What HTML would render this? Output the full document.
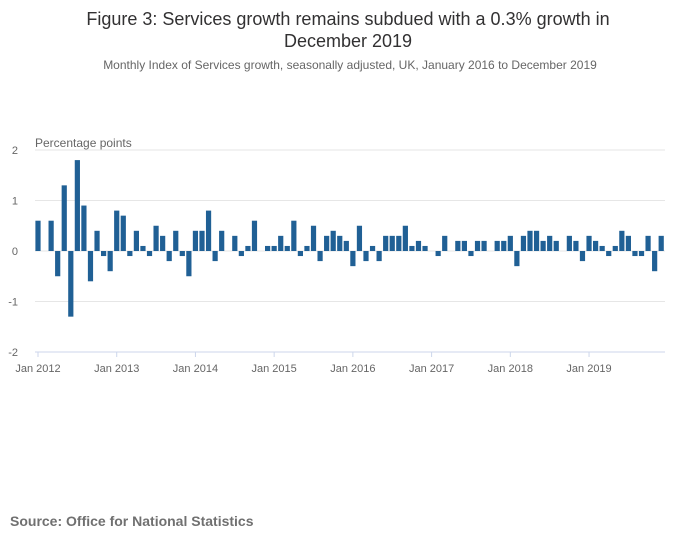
<!DOCTYPE html>
<html><head><meta charset="utf-8"><style>
body{margin:0;background:#fff;width:700px;height:549px;overflow:hidden;font-family:"Liberation Sans",sans-serif}
</style></head><body>
<svg width="700" height="549">
<text x="348" y="25" text-anchor="middle" font-size="18" fill="#323132">Figure 3: Services growth remains subdued with a 0.3% growth in</text>
<text x="348" y="47" text-anchor="middle" font-size="18" fill="#323132">December 2019</text>
<text x="350" y="69" text-anchor="middle" font-size="12" fill="#666">Monthly Index of Services growth, seasonally adjusted, UK, January 2016 to December 2019</text>
<text x="35" y="147" font-size="12" fill="#666">Percentage points</text>
<g id="grid"></g><g id="bars"></g><g id="xaxis"></g>
<text x="10" y="526" font-size="14" font-weight="bold" fill="#707070">Source: Office for National Statistics</text>
</svg>
<script>
const values=[0.6,0,0.6,-0.5,1.3,-1.3,1.8,0.9,-0.6,0.4,-0.1,-0.4,
0.8,0.7,-0.1,0.4,0.1,-0.1,0.5,0.3,-0.2,0.4,-0.1,-0.5,
0.4,0.4,0.8,-0.2,0.4,0,0.3,-0.1,0.1,0.6,0,0.1,
0.1,0.3,0.1,0.6,-0.1,0.1,0.5,-0.2,0.3,0.4,0.3,0.2,
-0.3,0.5,-0.2,0.1,-0.2,0.3,0.3,0.3,0.5,0.1,0.2,0.1,
0,-0.1,0.3,0,0.2,0.2,-0.1,0.2,0.2,0,0.2,0.2,
0.3,-0.3,0.3,0.4,0.4,0.2,0.3,0.2,0,0.3,0.2,-0.2,
0.3,0.2,0.1,-0.1,0.1,0.4,0.3,-0.1,-0.1,0.3,-0.4,0.3];
const yTicks=[2,1,0,-1,-2];
const xLabels=["Jan 2012","Jan 2013","Jan 2014","Jan 2015","Jan 2016","Jan 2017","Jan 2018","Jan 2019"];
const NS="http://www.w3.org/2000/svg";
const x0=38,step=6.56,yz=251,ppu=50.5;
const xs=i=>x0+i*step, ys=v=>yz-v*ppu;
const grid=document.getElementById('grid'),bars=document.getElementById('bars'),xa=document.getElementById('xaxis');
function mk(t,a,p){const e=document.createElementNS(NS,t);for(const k in a)e.setAttribute(k,a[k]);p.appendChild(e);return e;}
yTicks.forEach(v=>{
 const l=mk('line',{x1:35,x2:665,y1:ys(v),y2:ys(v),stroke:v===-2?'#ccd6eb':'#e6e6e6','stroke-width':1},grid);
 
 
 const t=mk('text',{x:18,y:ys(v)+4,'font-size':11,fill:'#666','text-anchor':'end'},grid);
 t.textContent=v;
 
 
});
values.forEach((v,i)=>{
 const r=mk('rect',{x:xs(i)-2.6,y:Math.min(ys(v),yz),width:5.2,height:Math.abs(v*ppu),fill:'#206095'},bars);
 
 
});
xLabels.forEach((s,k)=>{
 const x=xs(k*12);
 const l=mk('line',{x1:x,x2:x,y1:352,y2:357,stroke:'#ccd6eb'},xa);
 
 
 const t=mk('text',{x:x,y:372,'font-size':11,fill:'#666','text-anchor':'middle'},xa);
 t.textContent=s;
 
 
});
</script>
</body></html>
